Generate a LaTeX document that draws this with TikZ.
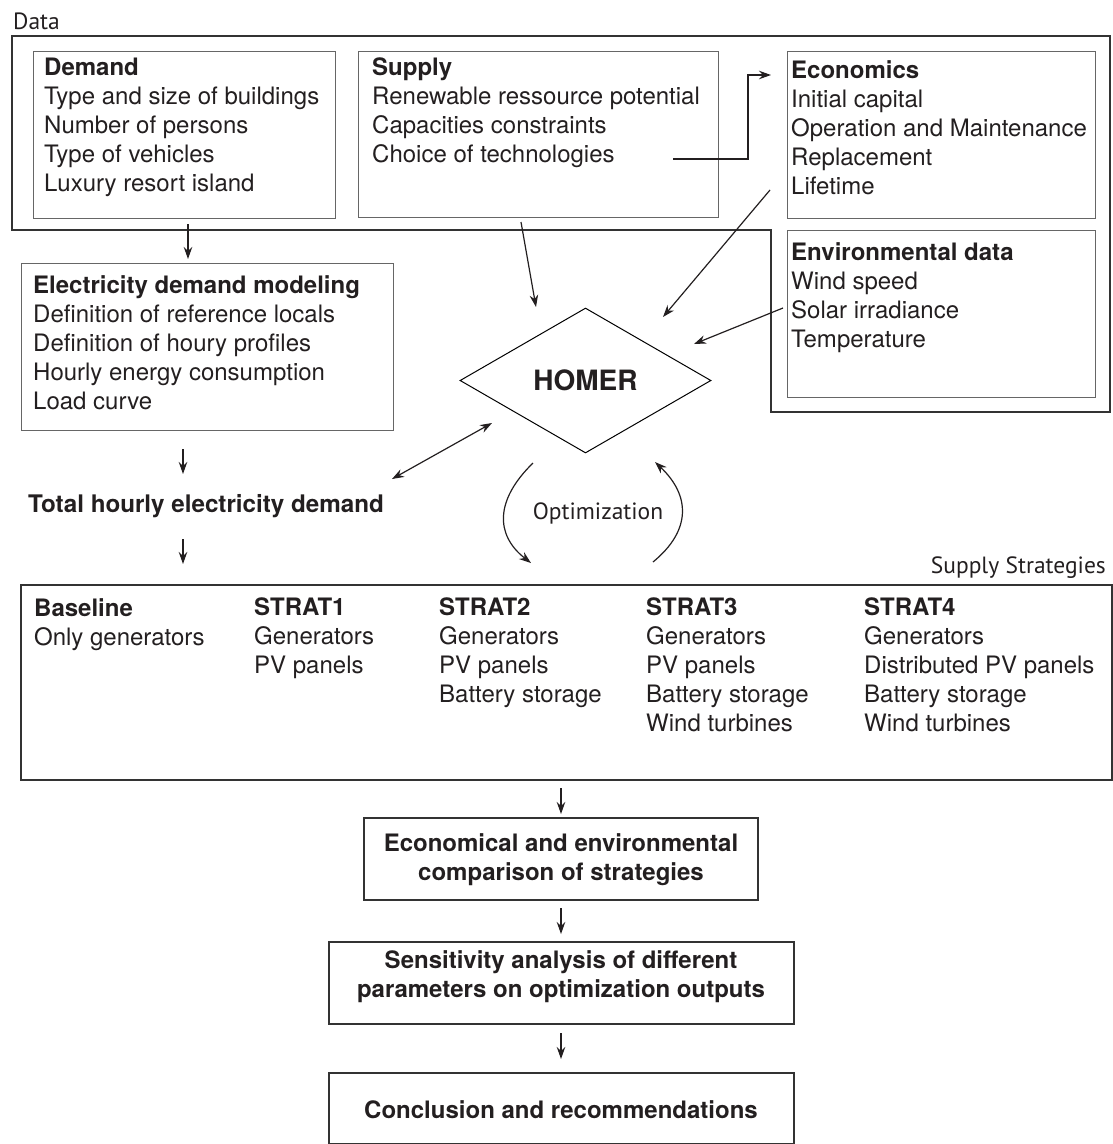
\documentclass[tikz,border=0pt]{standalone}
\usepackage{fontspec}
\setmainfont{TeX Gyre Heros}
\newfontfamily\lblfont{PT Sans}
\usetikzlibrary{shapes.geometric,arrows.meta}
\definecolor{ink}{HTML}{231F20}
\definecolor{boxgray}{HTML}{666666}
\definecolor{outgray}{HTML}{333333}
\tikzset{
  txt/.style={anchor=north west, inner sep=0pt, align=left, text=ink, font=\fontsize{24}{29}\selectfont},
  ctxt/.style={anchor=north, inner sep=0pt, align=center, text=ink, font=\fontsize{24}{28.5}\selectfont\bfseries},
  lbl/.style={inner sep=0pt, text=ink, font=\lblfont\fontsize{23.5}{27}\selectfont},
  inbox/.style={draw=boxgray, line width=1.3pt, anchor=north west, inner sep=0pt},
  thickbox/.style={draw=outgray, line width=1.8pt, anchor=north west, inner sep=0pt},
  arr/.style={draw=ink, line width=1.2pt, -{Stealth[length=12pt,width=8.5pt]}},
  darr/.style={draw=ink, line width=1.2pt, {Stealth[length=12pt,width=8.5pt]}-{Stealth[length=12pt,width=8.5pt]}},
}
\begin{document}
\begin{tikzpicture}[x=1pt,y=-1pt]
\useasboundingbox (0,0) rectangle (1113,1144);
% Data outline
\node[lbl, anchor=base west] (datalbl) at (13,29) {Data};
\draw[draw=outgray, line width=1.8pt] (12,36) -- (1110,36) -- (1110,412) -- (771,412) -- (771,230) -- (12,230) -- cycle;
% Boxes in Data
\node[inbox, minimum width=302pt, minimum height=167pt] (demand) at (33,51) {};
\node[txt] (demandtxt) at (44,58) {\textbf{Demand}\\Type and size of buildings\\Number of persons\\Type of vehicles\\Luxury resort island};
\node[inbox, minimum width=360pt, minimum height=166pt] (supply) at (358,51) {};
\node[txt] (supplytxt) at (372,58) {\textbf{Supply}\\Renewable ressource potential\\Capacities constraints\\Choice of technologies};
\node[inbox, minimum width=308pt, minimum height=167pt] (econ) at (787,51) {};
\node[txt] (econtxt) at (791,60) {\textbf{Economics}\\Initial capital\\Operation and Maintenance\\Replacement\\Lifetime};
\node[inbox, minimum width=308pt, minimum height=167pt] (env) at (787,230) {};
\node[txt] (envtxt) at (791,242) {\textbf{Environmental data}\\Wind speed\\Solar irradiance\\Temperature};
% Electricity demand modeling
\node[inbox, minimum width=372pt, minimum height=167pt] (elec) at (21,263) {};
\node[txt] (electxt) at (33,275) {\textbf{Electricity demand modeling}\\Definition of reference locals\\Definition of houry profiles\\Hourly energy consumption\\Load curve};
% Total hourly
\node[inner sep=0pt, anchor=base west, text=ink, font=\fontsize{24.2}{29}\selectfont\bfseries] (total) at (28,512) {Total hourly electricity demand};
% HOMER
\node[draw=black, line width=1pt, diamond, minimum width=251pt, minimum height=145pt, inner sep=0pt, text=ink, font=\fontsize{28}{32}\selectfont\bfseries] (homer) at (585.5,380.5) {HOMER};
% Optimization
\node[lbl, anchor=center] (opt) at (598,513) {Optimization};
% Supply strategies
\node[lbl, anchor=base east] (sslbl) at (1106,573) {Supply Strategies};
\node[thickbox, minimum width=1091pt, minimum height=195pt] (strat) at (20,584) {};
\node[txt] (s0) at (34,598) {\textbf{Baseline}\\Only generators};
\node[txt] (s1) at (254,598) {\textbf{STRAT1}\\Generators\\PV panels};
\node[txt] (s2) at (439,598) {\textbf{STRAT2}\\Generators\\PV panels\\Battery storage};
\node[txt] (s3) at (646,598) {\textbf{STRAT3}\\Generators\\PV panels\\Battery storage\\Wind turbines};
\node[txt] (s4) at (864,598) {\textbf{STRAT4}\\Generators\\Distributed PV panels\\Battery storage\\Wind turbines};
% Lower boxes
\node[thickbox, minimum width=394pt, minimum height=82pt] (comp) at (363,817) {};
\node[ctxt] (comptxt) at (561,833.5) {Economical and environmental\\comparison of strategies};
\node[thickbox, minimum width=465pt, minimum height=82pt] (sens) at (328,941) {};
\node[ctxt] (senstxt) at (561,950.5) {Sensitivity analysis of different\\parameters on optimization outputs};
\node[thickbox, minimum width=465pt, minimum height=71pt] (concl) at (328,1072) {};
\node[ctxt] (concltxt) at (561,1100.5) {Conclusion and recommendations};
% Coordinates for connectors
\coordinate (c1a) at (188,224); \coordinate (c1b) at (188,259);
\coordinate (c2a) at (673,159); \coordinate (c2b) at (748,159); \coordinate (c2c) at (748,75); \coordinate (c2d) at (771,75);
\coordinate (c3a) at (521,222); \coordinate (c3b) at (536,307);
\coordinate (c4a) at (770,190); \coordinate (c4b) at (663,317);
\coordinate (c5a) at (783,308); \coordinate (c5b) at (694,344);
\coordinate (c6a) at (183,449); \coordinate (c6b) at (183,474);
\coordinate (c7a) at (392,479); \coordinate (c7b) at (492,423);
\coordinate (c8a) at (183,539); \coordinate (c8b) at (183,564);
\coordinate (c9a) at (533,463); \coordinate (c9b) at (531,563);
\coordinate (c10a) at (653,562); \coordinate (c10b) at (655,462);
\coordinate (c11a) at (561,788); \coordinate (c11b) at (561,814);
\coordinate (c12a) at (561,908); \coordinate (c12b) at (561,934);
\coordinate (c13a) at (561,1033); \coordinate (c13b) at (561,1059);
% Connectors
\draw[arr] (c1a) -- (c1b);
\draw[arr] (c2a) -- (c2b) -- (c2c) -- (c2d);
\draw[arr] (c3a) -- (c3b);
\draw[arr] (c4a) -- (c4b);
\draw[arr] (c5a) -- (c5b);
\draw[arr] (c6a) -- (c6b);
\draw[darr] (c7a) -- (c7b);
\draw[arr] (c8a) -- (c8b);
\draw[arr] (c9a) .. controls (495,500) and (495,535) .. (c9b);
\draw[arr] (c10a) .. controls (692,530) and (690,495) .. (c10b);
\draw[arr] (c11a) -- (c11b);
\draw[arr] (c12a) -- (c12b);
\draw[arr] (c13a) -- (c13b);
\end{tikzpicture}
\end{document}
